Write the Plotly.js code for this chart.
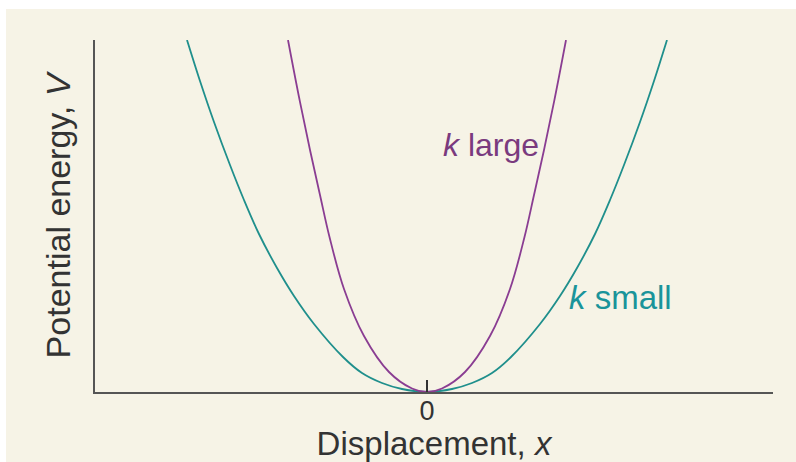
<!DOCTYPE html>
<html>
<head>
<meta charset="utf-8">
<script src="https://cdn.plot.ly/plotly-3.0.1.min.js"></script>
<style>
html,body{margin:0;padding:0;background:#fff;}
#chart{width:796px;height:462px;}
</style>
</head>
<body>
<div id="chart"></div>
<script>
// Displacement (arbitrary units, 0 = equilibrium) and potential energy
var xSmall = [-2.40, -2.27, -2.13, -1.97, -1.83, -1.68, -1.50, -1.33, -1.13, -0.84, -0.65, -0.45, -0.25, 0,
              0.25, 0.45, 0.65, 0.84, 1.13, 1.33, 1.50, 1.68, 1.83, 1.97, 2.13, 2.27, 2.40];
var vSmall = [3.52, 3.11, 2.70, 2.27, 1.92, 1.58, 1.24, 0.96, 0.68, 0.35, 0.19, 0.09, 0.03, 0,
              0.03, 0.09, 0.19, 0.35, 0.68, 0.96, 1.24, 1.58, 1.92, 2.27, 2.70, 3.11, 3.52];

var xLarge = [-1.39, -1.28, -1.17, -1.07, -0.975, -0.83, -0.63, -0.38, -0.15, 0,
              0.15, 0.38, 0.63, 0.83, 0.975, 1.07, 1.17, 1.28, 1.39];
var vLarge = [3.52, 2.95, 2.42, 1.97, 1.55, 1.03, 0.56, 0.20, 0.035, 0,
              0.035, 0.20, 0.56, 1.03, 1.55, 1.97, 2.42, 2.95, 3.52];

var tickVals = [0];
var tickText = ['0'];

var FONT = '"Liberation Sans", Arial, sans-serif';
var TEAL = '#1f8f8c';
var PURPLE = '#8a3d92';

var data = [
  {x: xSmall, y: vSmall, type: 'scatter', mode: 'lines', name: 'k small',
   line: {color: TEAL, width: 1.8, shape: 'spline', smoothing: 1}, hoverinfo: 'skip'},
  {x: xLarge, y: vLarge, type: 'scatter', mode: 'lines', name: 'k large',
   line: {color: PURPLE, width: 1.8, shape: 'spline', smoothing: 1}, hoverinfo: 'skip'}
];

var layout = {
  width: 796, height: 462,
  margin: {l: 95, r: 23, t: 40, b: 70, pad: 0},
  paper_bgcolor: '#ffffff',
  plot_bgcolor: 'rgba(0,0,0,0)',
  showlegend: false,
  font: {family: FONT, color: '#333333'},
  shapes: [
    {type: 'rect', xref: 'paper', yref: 'paper', x0: -0.1313, x1: 1.04, y0: -0.2, y1: 1.088,
     fillcolor: '#f6f3e6', line: {width: 0}, layer: 'below'}
  ],
  xaxis: {
    range: [-3.32, 3.46], fixedrange: true,
    showgrid: false, zeroline: false,
    showline: true, linecolor: '#555555', linewidth: 2,
    tickmode: 'array', tickvals: tickVals, ticktext: tickText,
    ticks: 'inside', ticklen: 12, tickwidth: 1.5, tickcolor: '#333333',
    ticklabelstandoff: -6,
    tickfont: {size: 27, family: FONT, color: '#333333'},
    title: {text: 'Displacement, <i>x</i>', font: {size: 33, family: FONT, color: '#333333'}, standoff: 2}
  },
  yaxis: {
    range: [0, 3.52], fixedrange: true,
    showgrid: false, zeroline: false,
    showline: true, linecolor: '#555555', linewidth: 2,
    ticks: '', showticklabels: false,
    title: {text: 'Potential energy, <i>V</i>', font: {size: 34, family: FONT, color: '#333333'}, standoff: 12}
  },
  annotations: [
    {xref: 'x', yref: 'y', x: 0.14, y: 2.47, xanchor: 'left', yanchor: 'middle', showarrow: false,
     text: '<i>k</i> large', font: {size: 32, family: FONT, color: '#7a3a7e'}},
    {xref: 'x', yref: 'y', x: 1.40, y: 0.95, xanchor: 'left', yanchor: 'middle', showarrow: false,
     text: '<i>k</i> small', font: {size: 33, family: FONT, color: '#1a949a'}}
  ]
};

Plotly.newPlot('chart', data, layout, {staticPlot: true, displayModeBar: false});
</script>
</body>
</html>
